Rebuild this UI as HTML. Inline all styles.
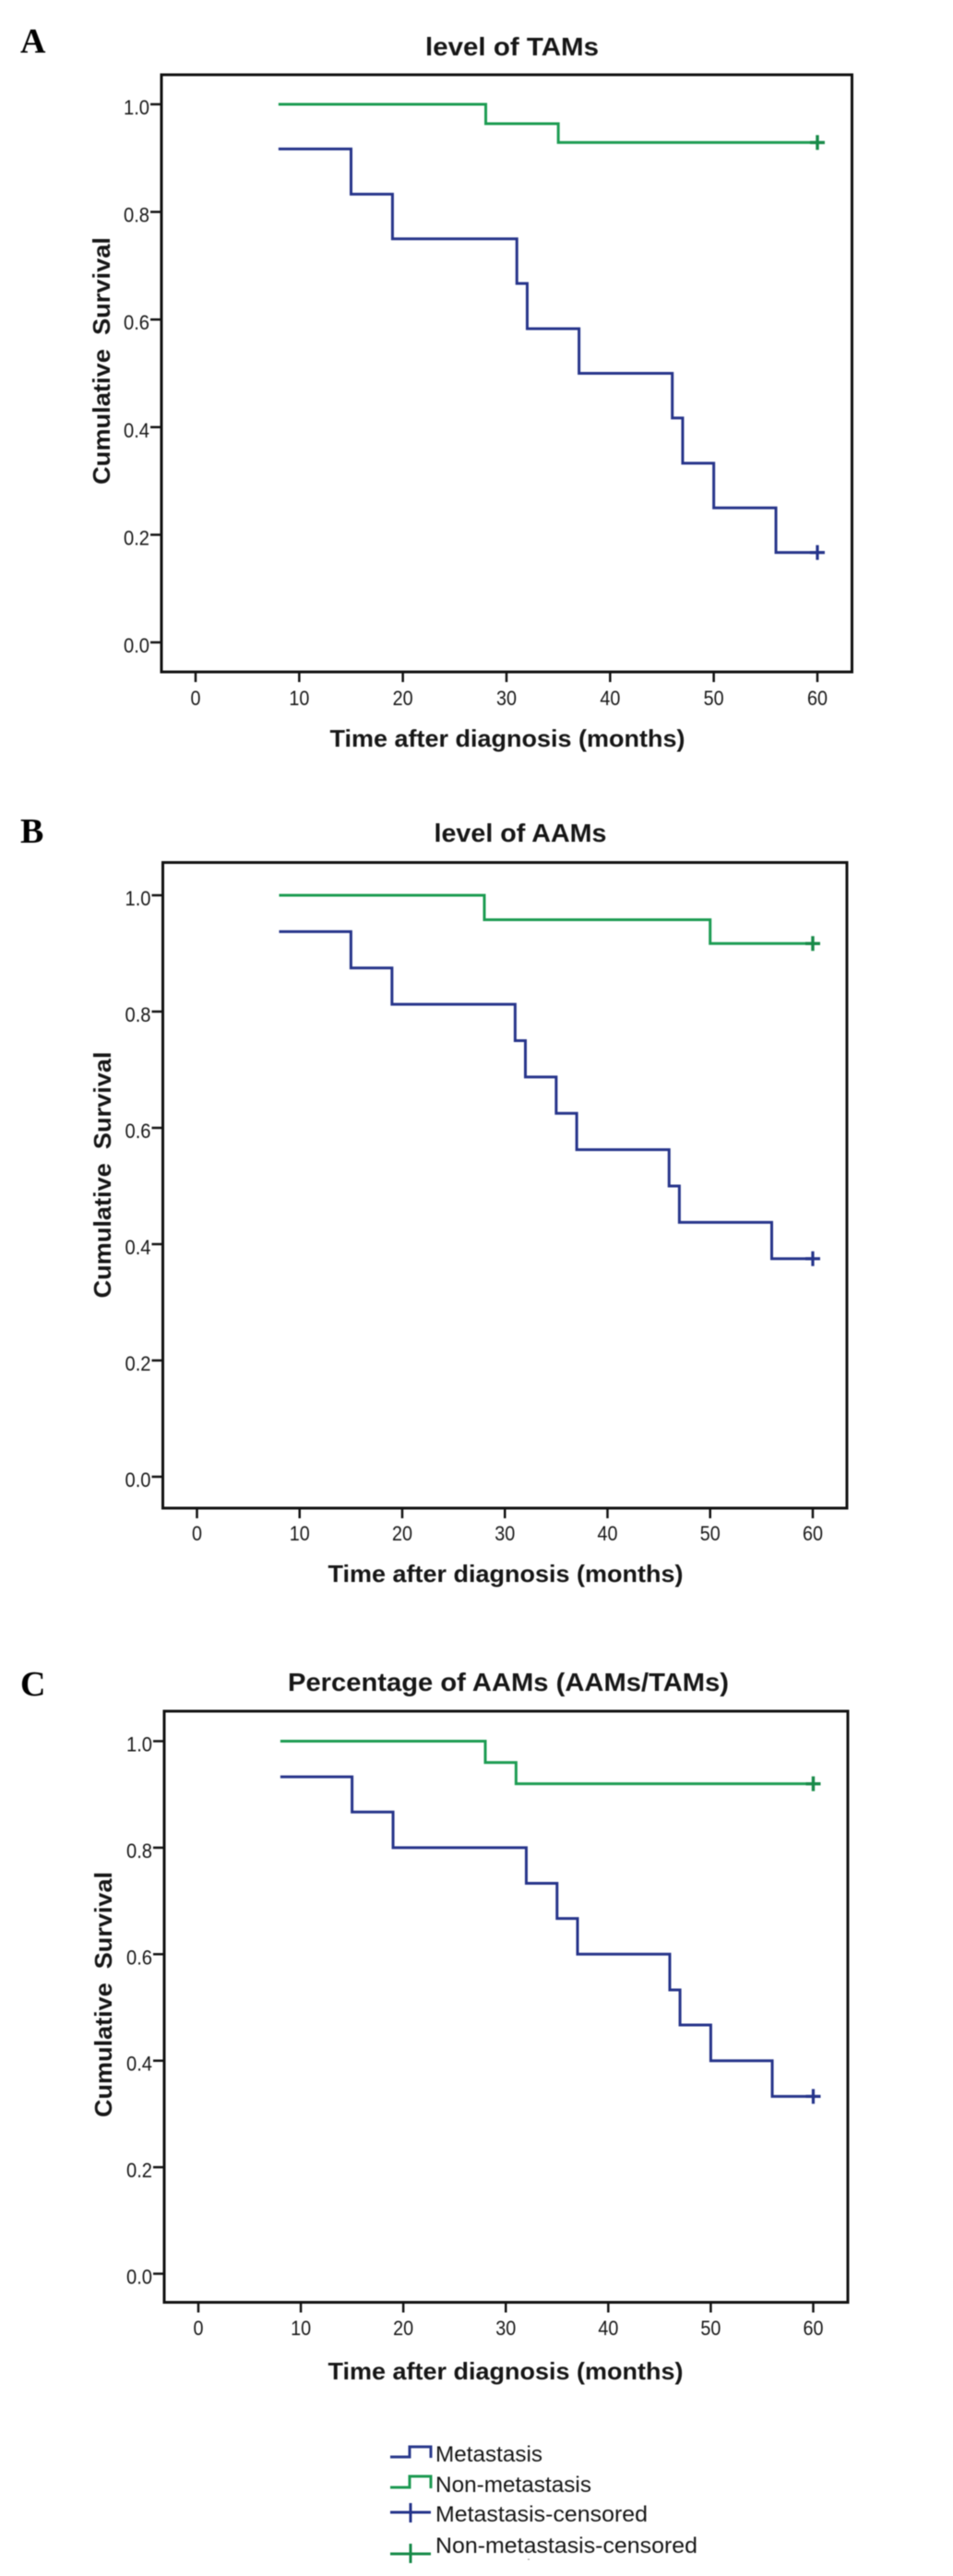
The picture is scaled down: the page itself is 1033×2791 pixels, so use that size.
<!DOCTYPE html>
<html lang="en">
<head>
<meta charset="utf-8">
<title>Cumulative survival curves</title>
<style>
  html,body{margin:0;padding:0;background:#fff;}
  body{width:1033px;height:2791px;overflow:hidden;}
  svg{display:block;filter:blur(0.5px);}
  text{font-family:"Liberation Sans",Arial,sans-serif;fill:#161616;}
  .letter{font-family:"Liberation Serif","Times New Roman",serif;font-weight:bold;font-size:38px;fill:#000;}
  .title{font-weight:bold;font-size:28px;text-anchor:middle;}
  .axis-title{font-weight:bold;font-size:26px;text-anchor:middle;}
  .tick{font-size:22.5px;}
  .legend{font-size:24px;}
</style>
</head>
<body>
<svg id="fig" xmlns="http://www.w3.org/2000/svg" width="1033" height="2791" viewBox="0 0 1033 2791">
  <rect width="1033" height="2791" fill="#fff"/>

  <text class="letter" x="22" y="57">A</text>
  <text class="title" x="555" y="60" textLength="188" lengthAdjust="spacingAndGlyphs">level of TAMs</text>
  <text class="axis-title" x="550" y="809" textLength="385" lengthAdjust="spacingAndGlyphs">Time after diagnosis (months)</text>
  <text class="axis-title" transform="translate(119 391) rotate(-90)" textLength="268" lengthAdjust="spacingAndGlyphs" xml:space="preserve">Cumulative  Survival</text>
  <g id="panel-a"></g>

  <text class="letter" x="22" y="913">B</text>
  <text class="title" x="564" y="912" textLength="187" lengthAdjust="spacingAndGlyphs">level of AAMs</text>
  <text class="axis-title" x="548" y="1714" textLength="385" lengthAdjust="spacingAndGlyphs">Time after diagnosis (months)</text>
  <text class="axis-title" transform="translate(120 1273) rotate(-90)" textLength="267" lengthAdjust="spacingAndGlyphs" xml:space="preserve">Cumulative  Survival</text>
  <g id="panel-b"></g>

  <text class="letter" x="22" y="1837">C</text>
  <text class="title" x="551" y="1832" textLength="478" lengthAdjust="spacingAndGlyphs">Percentage of AAMs (AAMs/TAMs)</text>
  <text class="axis-title" x="548" y="2578" textLength="385" lengthAdjust="spacingAndGlyphs">Time after diagnosis (months)</text>
  <text class="axis-title" transform="translate(121 2161) rotate(-90)" textLength="266" lengthAdjust="spacingAndGlyphs" xml:space="preserve">Cumulative  Survival</text>
  <g id="panel-c"></g>

  <g fill="none" stroke-width="3">
    <g>
      <polyline points="423,2662 444,2662 444,2651 467,2651 467,2663" stroke="#2a3a8c"/>
      <text class="legend" x="472" y="2667" textLength="116" lengthAdjust="spacingAndGlyphs">Metastasis</text>
    </g>
    <g>
      <polyline points="423,2695 444,2695 444,2683 467,2683 467,2696" stroke="#1c9a52"/>
      <text class="legend" x="472" y="2700" textLength="169" lengthAdjust="spacingAndGlyphs">Non-metastasis</text>
    </g>
    <g>
      <path d="M423 2722H467M445 2712V2733" stroke="#24338a"/>
      <text class="legend" x="472" y="2732" textLength="230" lengthAdjust="spacingAndGlyphs">Metastasis-censored</text>
    </g>
    <g>
      <path d="M423 2767H467M445 2756V2777" stroke="#178a48"/>
      <text class="legend" x="472" y="2766" textLength="284" lengthAdjust="spacingAndGlyphs">Non-metastasis-censored</text>
    </g>
    <rect x="572" y="2772.5" width="2" height="1" fill="#888" stroke="none"/>
  </g>
</svg>

<script>
// Axis tick labels
const xTickValues = [0, 10, 20, 30, 40, 50, 60];
const yTickValues = [0.0, 0.2, 0.4, 0.6, 0.8, 1.0];

// Panel A: level of TAMs
const aMetastasisTimes = [8, 15, 19, 31, 32, 37, 46, 47, 50, 56, 60];
const aMetastasisSurvival = [0.917, 0.833, 0.75, 0.667, 0.583, 0.5, 0.417, 0.333, 0.25, 0.167, 0.167];
const aNonMetastasisTimes = [8, 28, 35, 60];
const aNonMetastasisSurvival = [1.0, 0.964, 0.929, 0.929];

// Panel B: level of AAMs
const bMetastasisTimes = [8, 15, 19, 31, 32, 35, 37, 46, 47, 56, 60];
const bMetastasisSurvival = [0.9375, 0.875, 0.8125, 0.75, 0.6875, 0.625, 0.5625, 0.5, 0.4375, 0.375, 0.375];
const bNonMetastasisTimes = [8, 28, 50, 60];
const bNonMetastasisSurvival = [1.0, 0.958, 0.917, 0.917];

// Panel C: percentage of AAMs
const cMetastasisTimes = [8, 15, 19, 32, 35, 37, 46, 47, 50, 56, 60];
const cMetastasisSurvival = [0.933, 0.867, 0.8, 0.733, 0.667, 0.6, 0.533, 0.467, 0.4, 0.333, 0.333];
const cNonMetastasisTimes = [8, 28, 31, 60];
const cNonMetastasisSurvival = [1.0, 0.96, 0.92, 0.92];

const NS = 'http://www.w3.org/2000/svg';
const BLUE = '#26348a';
const GREEN = '#1c9c52';

function make(parent, tag, attrs) {
  const el = document.createElementNS(NS, tag);
  for (const k in attrs) el.setAttribute(k, attrs[k]);
  parent.appendChild(el);
  return el;
}

function drawPanel(id, frame, blueT, blueS, greenT, greenS) {
  const root = document.getElementById(id);
  const xScale = t => frame.x0 + (frame.x60 - frame.x0) * t / 60;
  const yScale = s => frame.y0 + (frame.y1 - frame.y0) * s;

  xTickValues.forEach(t => {
    const tick = make(root, 'line', {x1: xScale(t), x2: xScale(t), y1: frame.bottom, y2: frame.bottom + 11, stroke: '#111', 'stroke-width': 2.5});
    
    
    const text = String(t);
    const label = make(root, 'text', {x: xScale(t), y: frame.xLabelY, 'class': 'tick', 'text-anchor': 'middle', textLength: text.length * 11, lengthAdjust: 'spacingAndGlyphs'});
    
    
    label.textContent = text;
  });

  yTickValues.forEach(s => {
    const tick = make(root, 'line', {x1: frame.left - 12, x2: frame.left, y1: yScale(s), y2: yScale(s), stroke: '#111', 'stroke-width': 2.5});
    
    
    const label = make(root, 'text', {x: frame.left - 13, y: yScale(s) + 11, 'class': 'tick', 'text-anchor': 'end', textLength: 28, lengthAdjust: 'spacingAndGlyphs'});
    
    
    label.textContent = s.toFixed(1);
  });

  const box = make(root, 'rect', {x: frame.left, y: frame.top, width: frame.right - frame.left, height: frame.bottom - frame.top, fill: 'none', stroke: '#111', 'stroke-width': 3});
  
  

  const stepPath = (T, S) => {
    let d = 'M' + xScale(T[0]) + ' ' + yScale(S[0]);
    for (let i = 1; i < T.length; i++) {
      d += 'H' + xScale(T[i]) + 'V' + yScale(S[i]);
    }
    return d;
  };

  const greenLine = make(root, 'path', {d: stepPath(greenT, greenS), fill: 'none', stroke: GREEN, 'stroke-width': 3});
  
  

  const blueLine = make(root, 'path', {d: stepPath(blueT, blueS), fill: 'none', stroke: BLUE, 'stroke-width': 3});
  
  

  const crossPath = (t, s) => {
    const cx = xScale(t), cy = yScale(s);
    return 'M' + (cx - 8) + ' ' + cy + 'H' + (cx + 8) + 'M' + cx + ' ' + (cy - 8) + 'V' + (cy + 8);
  };

  const greenLast = greenT.length - 1;
  const greenCensor = make(root, 'path', {d: crossPath(greenT[greenLast], greenS[greenLast]), fill: 'none', stroke: '#178a48', 'stroke-width': 3.4});
  
  

  const blueLast = blueT.length - 1;
  const blueCensor = make(root, 'path', {d: crossPath(blueT[blueLast], blueS[blueLast]), fill: 'none', stroke: '#24338a', 'stroke-width': 3.2});
  
  
}

drawPanel('panel-a', {left: 175, right: 923.5, top: 81, bottom: 728, x0: 212, x60: 886, y0: 696, y1: 113, xLabelY: 764},
  aMetastasisTimes, aMetastasisSurvival, aNonMetastasisTimes, aNonMetastasisSurvival);
drawPanel('panel-b', {left: 176.5, right: 918, top: 934.5, bottom: 1634, x0: 213.5, x60: 881, y0: 1600, y1: 970, xLabelY: 1669},
  bMetastasisTimes, bMetastasisSurvival, bNonMetastasisTimes, bNonMetastasisSurvival);
drawPanel('panel-c', {left: 178, right: 919, top: 1854, bottom: 2494.5, x0: 215, x60: 881.5, y0: 2463.5, y1: 1886.5, xLabelY: 2530},
  cMetastasisTimes, cMetastasisSurvival, cNonMetastasisTimes, cNonMetastasisSurvival);
</script>
</body>
</html>
